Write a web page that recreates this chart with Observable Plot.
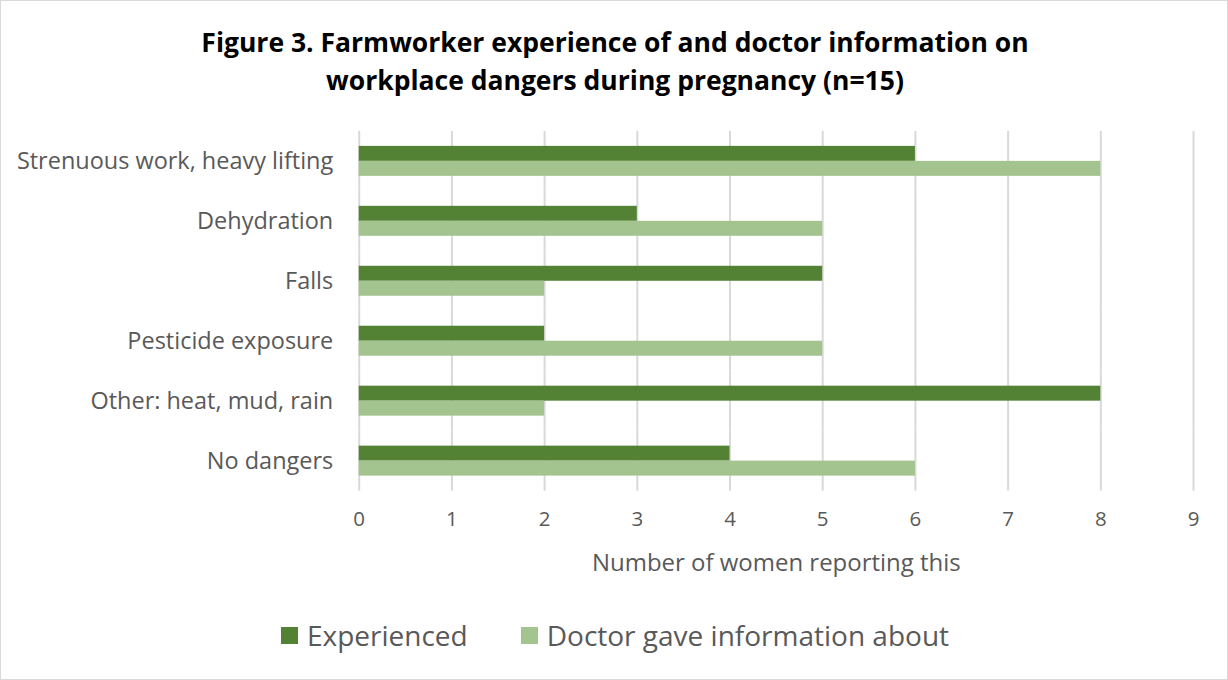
<!DOCTYPE html>
<html>
<head>
<meta charset="utf-8">
<script src="https://cdn.jsdelivr.net/npm/d3@7"></script>
<script src="https://cdn.jsdelivr.net/npm/@observablehq/plot@0.6"></script>
<style>
  html, body { margin: 0; padding: 0; background: #fff; }
  #wrap { position: relative; width: 1228px; height: 680px; box-sizing: border-box; border: 1px solid #d9d9d9; overflow: hidden; font-family: "Open Sans", sans-serif; }
  #title { position: absolute; left: 0; top: 22px; width: 1228px; text-align: center; font-weight: bold; font-size: 26.5px; line-height: 38px; color: #000; }
  #chart { position: absolute; left: -1px; top: -1px; }
  #legend { position: absolute; left: 0; top: 615px; width: 1228px; display: flex; justify-content: center; gap: 53px; font-size: 28px; color: #595959; }
  .item { display: flex; align-items: center; }
  .sw { width: 17px; height: 17px; margin-right: 9px; }
</style>
</head>
<body>
<div id="wrap">
  <div id="title">Figure 3. Farmworker experience of and doctor information on<br>workplace dangers during pregnancy (n=15)</div>
  <div id="chart"></div>
  <div id="legend"></div>
</div>
<script>
const categories = ["Strenuous work, heavy lifting", "Dehydration", "Falls", "Pesticide exposure", "Other: heat, mud, rain", "No dangers"];
const seriesNames = ["Experienced", "Doctor gave information about"];
const experienced = [6, 3, 5, 2, 8, 4];
const doctorInfo = [8, 5, 2, 5, 2, 6];
const xTicks = [0, 1, 2, 3, 4, 5, 6, 7, 8, 9];
const colors = ["#548235", "#a3c48f"];

const data = [];
categories.forEach((c, i) => {
  data.push({category: c, series: seriesNames[0], value: experienced[i]});
  data.push({category: c, series: seriesNames[1], value: doctorInfo[i]});
});

const chart = Plot.plot({
  width: 1228,
  height: 680,
  marginTop: 131,
  marginBottom: 189,
  marginLeft: 359,
  marginRight: 34,
  style: {fontFamily: "Open Sans, sans-serif", fontSize: "20px", color: "#595959", background: "transparent"},
  x: {domain: [0, 9], axis: null},
  y: {domain: seriesNames, axis: null, paddingInner: 0, paddingOuter: 0.935},
  fy: {domain: categories, padding: 0, label: null, axis: null},
  color: {domain: seriesNames, range: colors},
  marks: [
    Plot.gridX(xTicks, {stroke: "#d9d9d9", strokeOpacity: 1, strokeWidth: 2}),
    Plot.barX(data, {fy: "category", y: "series", x: "value", fill: "series"}),
    Plot.axisFy({anchor: "left", tickSize: 0, tickPadding: 26, fontSize: 23.5, label: null}),
    Plot.axisX(xTicks, {anchor: "bottom", tickSize: 0, tickPadding: 20, fontSize: 20.5, tickFormat: d => String(d), label: null}),
    Plot.axisX([], {anchor: "bottom", tickSize: 0, fontSize: 24,
      label: "Number of women reporting this", labelAnchor: "center", labelArrow: "none", labelOffset: 80})
  ]
});
document.getElementById("chart").appendChild(chart);

const legend = document.getElementById("legend");
seriesNames.forEach((s, i) => {
  const it = document.createElement("div");
  it.className = "item";
  it.innerHTML = `<div class="sw" style="background:${colors[i]}"></div><span>${s}</span>`;
  legend.appendChild(it);
});
</script>
</body>
</html>
